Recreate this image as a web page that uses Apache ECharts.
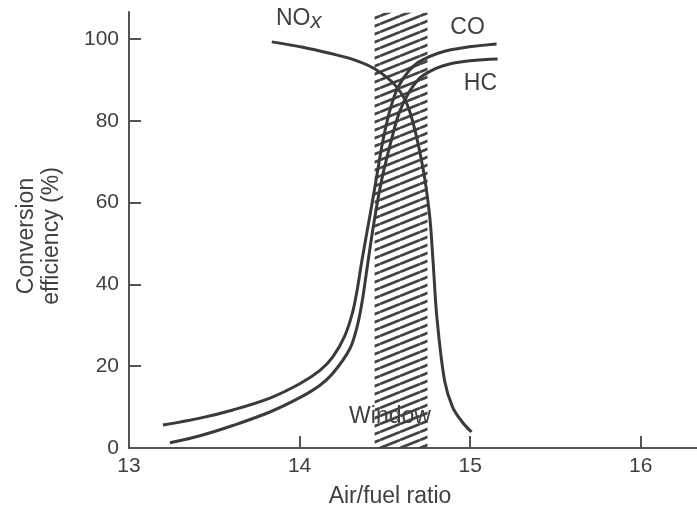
<!DOCTYPE html>
<html><head><meta charset="utf-8">
<script src="https://cdn.jsdelivr.net/npm/echarts@6/dist/echarts.min.js"></script>
<style>html,body{margin:0;padding:0;background:#fff}#c{width:697px;height:514px}</style>
</head><body><div id="c"></div>
<script>
const xTicks = [13, 14, 15, 16];
const yTicks = [0, 20, 40, 60, 80, 100];

const noxX = [13.837, 14.019, 14.177, 14.32, 14.44, 14.569, 14.645, 14.721, 14.762, 14.782, 14.805, 14.85, 14.897, 14.955, 15.008];
const noxY = [99.3, 98.0, 96.5, 94.9, 92.7, 88.3, 82.4, 69.0, 57.0, 46.0, 32.0, 16.5, 10.0, 6.3, 3.9];

const coX = [13.199, 13.416, 13.609, 13.826, 14.001, 14.118, 14.194, 14.265, 14.311, 14.34, 14.364, 14.411, 14.452, 14.487, 14.528, 14.575, 14.645, 14.721, 14.879, 15.155];
const coY = [5.6, 7.3, 9.3, 12.2, 15.7, 18.9, 22.2, 27.4, 33.2, 39.2, 45.5, 56.5, 66.3, 74.8, 82.3, 88, 92.4, 94.9, 97.3, 98.8];

const hcX = [13.24, 13.416, 13.609, 13.826, 14.001, 14.118, 14.194, 14.294, 14.341, 14.37, 14.393, 14.434, 14.481, 14.54, 14.587, 14.645, 14.721, 14.879, 15.161];
const hcY = [1.3, 3.0, 5.5, 8.8, 12.3, 15.3, 18.2, 24.2, 30.3, 36.6, 43.2, 54.6, 65.5, 75.6, 82.3, 87.2, 91, 93.9, 95.1];

const windowRange = [14.44, 14.75];
const windowTop = 106.4;

const zip = (xs, ys) => xs.map((x, i) => [x, ys[i]]);

function hatch() {
  const w = 20, h = 8;
  const c = document.createElement('canvas');
  c.width = w; c.height = h;
  const g = c.getContext('2d');
  g.strokeStyle = '#444';
  g.lineWidth = 2.8;
  for (const dy of [-h, 0, h]) {
    g.beginPath(); g.moveTo(0, h + dy); g.lineTo(w, dy); g.stroke();
  }
  return c;
}

const FONT = 'Liberation Sans';
const txt = '#404040';
const lineCol = '#3a3a3a';
const axisCol = '#555';

const baseLine = {
  type: 'line', showSymbol: false, smooth: 0.35,
  lineStyle: { color: lineCol, width: 3 }, z: 3, silent: true
};

function labelPoint(coord, text, extra) {
  return {
    coord: coord, symbolSize: 0,
    label: Object.assign({ show: true, formatter: text, position: 'inside',
      fontSize: 23, color: txt, fontFamily: FONT }, extra || {})
  };
}

const chart = echarts.init(document.getElementById('c'));
chart.setOption({
  animation: false,
  backgroundColor: '#fff',
  grid: { left: 129, right: 0, top: 12, bottom: 66 },
  xAxis: {
    type: 'value', min: 13, max: 16.33,
    axisLine: { show: true, lineStyle: { color: axisCol, width: 2 } },
    axisTick: { show: true, inside: true, length: 12, customValues: xTicks, lineStyle: { color: axisCol, width: 2 } },
    axisLabel: { customValues: xTicks, fontSize: 21, color: txt, margin: 8, fontFamily: FONT },
    splitLine: { show: false },
    name: 'Air/fuel ratio', nameLocation: 'middle', nameGap: 37,
    nameTextStyle: { fontSize: 23, color: txt, fontFamily: FONT, padding: [0, 46, 0, 0] }
  },
  yAxis: {
    type: 'value', min: 0, max: 106.6,
    axisLine: { show: true, lineStyle: { color: axisCol, width: 2 } },
    axisTick: { show: true, inside: true, length: 12, customValues: yTicks, lineStyle: { color: axisCol, width: 2 } },
    axisLabel: { customValues: yTicks, fontSize: 21, color: txt, margin: 10, fontFamily: FONT },
    splitLine: { show: false },
    name: 'Conversion\nefficiency (%)', nameLocation: 'middle', nameGap: 65,
    nameTextStyle: { fontSize: 23, lineHeight: 25, color: txt, fontFamily: FONT, padding: [0, 12, 0, 0] }
  },
  series: [
    Object.assign({}, baseLine, {
      name: 'NOx', data: zip(noxX, noxY),
      markArea: {
        silent: true,
        itemStyle: { color: { image: hatch(), repeat: 'repeat' } },
        data: [[{ coord: [windowRange[0], 0] }, { coord: [windowRange[1], windowTop] }]]
      },
      markPoint: {
        silent: true,
        data: [
          labelPoint([13.995, 104.6], '{a|NO}{b|x}', {
            rich: {
              a: { fontSize: 23, color: txt, fontFamily: FONT, lineHeight: 26, verticalAlign: 'top' },
              b: { fontSize: 22, color: txt, fontFamily: FONT, fontStyle: 'italic', lineHeight: 26, verticalAlign: 'bottom' }
            }
          }),
          labelPoint([14.53, 7.6], 'Window')
        ]
      }
    }),
    Object.assign({}, baseLine, {
      name: 'CO', data: zip(coX, coY),
      markPoint: { silent: true, data: [labelPoint([14.985, 102.7], 'CO')] }
    }),
    Object.assign({}, baseLine, {
      name: 'HC', data: zip(hcX, hcY),
      markPoint: { silent: true, data: [labelPoint([15.06, 89.2], 'HC')] }
    })
  ]
});
</script></body></html>
